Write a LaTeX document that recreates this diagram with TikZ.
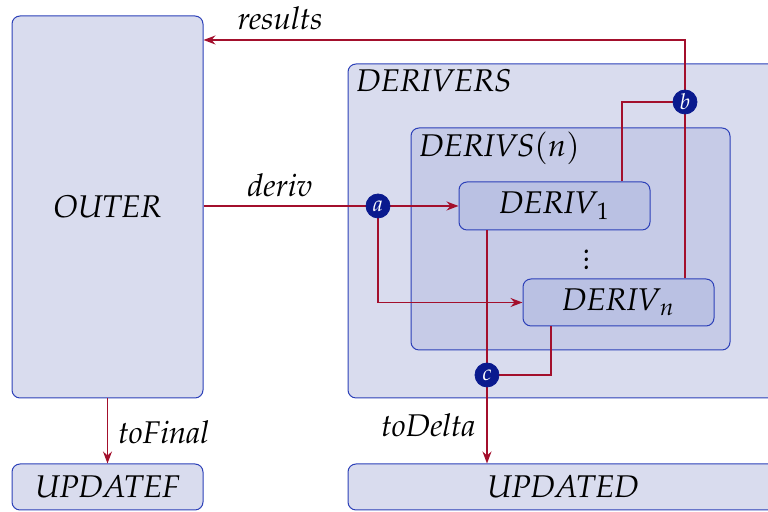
\documentclass[tikz,border=0pt]{standalone}
\usepackage[T1]{fontenc}
\usepackage{mathpazo}
\usetikzlibrary{arrows.meta}
\definecolor{boxfill}{HTML}{D9DCEE}
\definecolor{midfill}{HTML}{C6CBE7}
\definecolor{innerfill}{HTML}{BAC1E3}
\definecolor{boxline}{HTML}{2C40B8}
\definecolor{dotfill}{HTML}{0A1A8E}
\definecolor{flow}{HTML}{A30F2C}
\tikzset{
  px/.style={x=0.5pt,y=-0.5pt},
  box/.style={draw=boxline, line width=0.5pt, rounded corners=4pt, fill=boxfill,
    inner sep=0pt, font=\itshape\fontsize{15.7}{18}\selectfont},
  midbox/.style={box, fill=midfill},
  innerbox/.style={box, fill=innerfill},
  title/.style={anchor=north west, inner sep=0pt, font=\itshape\fontsize{15.7}{18}\selectfont},
  lbl/.style={inner sep=0pt, font=\itshape\fontsize{15.7}{18}\selectfont},
  junction/.style={circle, fill=dotfill, draw=dotfill, inner sep=0pt, minimum size=12pt,
    text=white, font=\itshape\fontsize{11}{12}\selectfont},
  flowline/.style={draw=flow, line width=0.7pt},
  flowarrow/.style={flowline, -{Stealth[length=6pt,width=4.5pt,inset=2pt]}},
}
\begin{document}
\begin{tikzpicture}[px]
\useasboundingbox (0,0) rectangle (768,512);
\begin{scope}
\clip (0,0) rectangle (768,512);
% outer blocks
\node[box, minimum width=95.5pt, minimum height=191pt] (outer) at (107.5,207) {OUTER};
\node[box, minimum width=95.5pt, minimum height=23pt] (updatef) at (107.5,487) {UPDATEF};
\node[box, minimum width=215pt, minimum height=23pt] (updated) at (563,487) {UPDATED};
\node[box, minimum width=215pt, minimum height=167pt] (derivers) at (563,231) {};
\node[title] (deriverstitle) at (356,69) {DERIVERS};
% inner group
\node[midbox, minimum width=159.5pt, minimum height=111pt] (derivs) at (570.5,239) {};
\node[title] (derivstitle) at (419,132) {DERIVS$(n)$};
\node[innerbox, minimum width=95.5pt, minimum height=24pt] (deriv1) at (554.5,206) {DERIV$_1$};
\node[innerbox, minimum width=95.5pt, minimum height=23.5pt] (derivn) at (618.5,302.5) {DERIV$_n$};
\node[lbl] (vdots) at (587,254) {$\vdots$};
% junctions
\coordinate (ja) at (378,206);
\coordinate (jb) at (685,102);
\coordinate (jc) at (487,375);
\coordinate (rtop) at (685,40);
% flows
\draw[flowarrow] (outer.east |- ja) -- (deriv1.west |- ja);
\draw[flowarrow] (ja) |- (derivn.west);
\draw[flowline] (deriv1.north -| 622,0) |- (jb);
\draw[flowline] (derivn.north -| jb) -- (jb);
\draw[flowarrow] (jb) -- (rtop) -- (outer.east |- rtop);
\draw[flowline] (deriv1.south -| jc) -- (jc);
\draw[flowline] (derivn.south -| 551,0) |- (jc);
\draw[flowarrow] (jc) -- (updated.north -| jc);
\draw[flowarrow] (outer.south) -- (updatef.north);
\node[junction] (a) at (ja) {a};
\node[junction] (b) at (jb) {b};
\node[junction] (c) at (jc) {c};
% labels
\node[lbl] (lresults) at (280,18) {results};
\node[lbl] (lderiv) at (280,185) {deriv};
\node[lbl, anchor=west] (ltofinal) at (118,432) {toFinal};
\node[lbl, anchor=east] (ltodelta) at (476,425) {toDelta};
\end{scope}
\end{tikzpicture}
\end{document}
